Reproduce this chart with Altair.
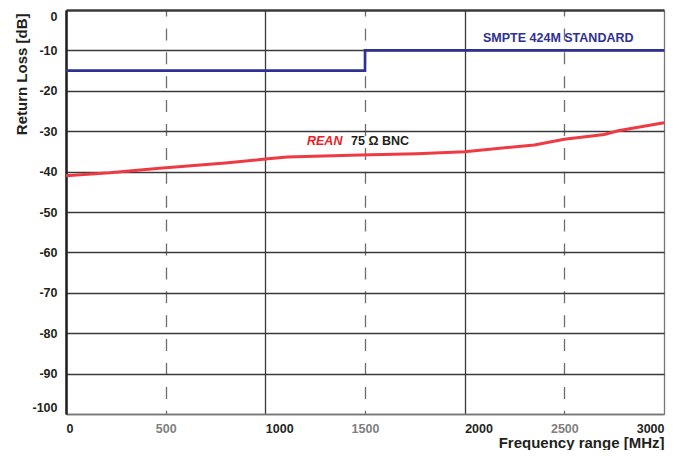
import altair as alt
import pandas as pd

# --- data ---
freq_rean = [0, 220, 470, 800, 1000, 1110, 1475, 1760, 2000, 2350, 2500, 2700, 2770, 3000]
rl_rean = [-41.0, -40.3, -39.2, -37.9, -36.9, -36.4, -35.9, -35.6, -35.1, -33.4, -32.0, -30.8, -29.9, -27.9]

freq_std = [0, 1500, 3000]
rl_std = [-15, -10, -10]

x_ticks = [0, 500, 1000, 1500, 2000, 2500, 3000]
y_ticks = [-100, -90, -80, -70, -60, -50, -40, -30, -20, -10, 0]

note_text = ["SMPTE 424M STANDARD", "REAN", "75 \u03a9 BNC"]
note_f = [2092, 1209, 1430]
note_v = [-6.9, -32.4, -32.4]

FONT = "Liberation Sans"
BLUE = "#2E3192"
RED = "#EE3A43"
INK = "#231F20"

df_rean = pd.DataFrame({"f": freq_rean, "v": rl_rean})
df_std = pd.DataFrame({"f": freq_std, "v": rl_std})
df_note_std = pd.DataFrame({"f": note_f[0:1], "v": note_v[0:1], "t": note_text[0:1]})
df_note_rean = pd.DataFrame({"f": note_f[1:2], "v": note_v[1:2], "t": note_text[1:2]})
df_note_bnc = pd.DataFrame({"f": note_f[2:3], "v": note_v[2:3], "t": note_text[2:3]})

x_axis = alt.Axis(
    values=x_ticks,
    labelExpr="'' + datum.value",
    title="Frequency range [MHz]",
    grid=True,
    gridColor={"condition": [{"test": "datum.value == 3000", "value": "#777777"},
                             {"test": "datum.value % 1000 != 0", "value": "#6d6d6d"}],
               "value": "#3a3a3a"},
    gridDash={"condition": {"test": "datum.value % 1000 != 0", "value": [12, 11.9]}, "value": []},
    gridDashOffset=6,
    gridWidth=1.3,
    ticks=False,
    tickSize=0,
    domain=True,
    domainColor="#777777",
    domainWidth=1.5,
    labelFlush=False,
    labelAlign={"condition": [{"test": "datum.value == 3000", "value": "right"},
                              {"test": "datum.value % 1000 == 0", "value": "left"}],
                "value": "center"},
    labelColor={"condition": {"test": "datum.value % 1000 != 0", "value": "#808080"}, "value": INK},
    labelFont=FONT,
    labelFontSize=12.5,
    labelFontWeight="bold",
    labelPadding=8,
    titleFont=FONT,
    titleFontSize=15,
    titleFontWeight="bold",
    titleColor=INK,
    titleAnchor="end",
    titleAlign="right",
    titleBaseline="alphabetic",
    titleX=598,
    titleY=33,
)

y_axis = alt.Axis(
    values=y_ticks,
    labelExpr="'' + datum.value",
    title="Return Loss [dB]",
    grid=True,
    gridColor={"condition": {"test": "datum.value == -100", "value": "#777777"}, "value": "#3a3a3a"},
    gridWidth={"condition": {"test": "datum.value == 0", "value": 2.5}, "value": 1.3},
    ticks=False,
    tickSize=0,
    domain=True,
    domainColor=INK,
    domainWidth=2.5,
    labelFlush=True,
    labelColor=INK,
    labelFont=FONT,
    labelFontSize=12.5,
    labelFontWeight="bold",
    labelPadding=9,
    titleFont=FONT,
    titleFontSize=15,
    titleFontWeight="bold",
    titleColor=INK,
    titleAngle=270,
    titleAlign="right",
    titleBaseline="alphabetic",
    titleX=-40,
    titleY=3,
)

x_enc = alt.X("f:Q", scale=alt.Scale(domain=[0, 3000], nice=False, zero=False), axis=x_axis)
y_enc = alt.Y("v:Q", scale=alt.Scale(domain=[-100, 0], nice=False), axis=y_axis)

rean = alt.Chart(df_rean).mark_line(color=RED, strokeWidth=3).encode(x=x_enc, y=y_enc)
std = alt.Chart(df_std).mark_line(color=BLUE, strokeWidth=2.6, interpolate="step-after").encode(x=x_enc, y=y_enc)

t_std = alt.Chart(df_note_std).mark_text(
    align="left", baseline="middle", font=FONT, fontSize=12.5, fontWeight="bold", color=BLUE
).encode(x=x_enc, y=y_enc, text="t:N")
t_rean = alt.Chart(df_note_rean).mark_text(
    align="left", baseline="middle", font=FONT, fontSize=12.5, fontWeight="bold",
    fontStyle="italic", color="#ED1C24"
).encode(x=x_enc, y=y_enc, text="t:N")
t_bnc = alt.Chart(df_note_bnc).mark_text(
    align="left", baseline="middle", font=FONT, fontSize=12.5, fontWeight="bold", color=INK
).encode(x=x_enc, y=y_enc, text="t:N")

chart = (
    alt.layer(std, rean, t_std, t_rean, t_bnc)
    .properties(
        width=598,
        height=404,
        autosize=alt.AutoSizeParams(type="none"),
        padding={"left": 58, "top": 2, "right": 7, "bottom": 36},
        background="white",
    )
    .configure_view(fill="#FDEAE0", stroke="#777777", strokeWidth=1.5)
    .configure(font=FONT)
)

chart.save("out.html", embed_options={"renderer": "svg", "actions": False})
